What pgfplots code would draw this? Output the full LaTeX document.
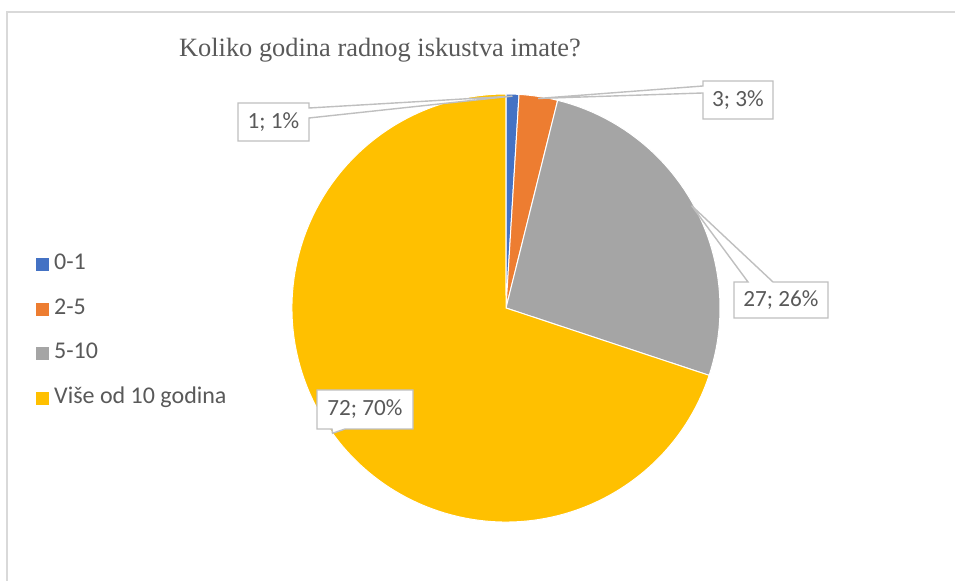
\documentclass[border=0pt]{standalone}
\usepackage{pgfplots}
\pgfplotsset{compat=1.18}
\usepackage{pgfplotstable}
\usepackage{fontspec}
\setmainfont{Carlito}
\newfontfamily\titlefont{Liberation Serif}

\definecolor{c0}{HTML}{4472C4}
\definecolor{c1}{HTML}{ED7D31}
\definecolor{c2}{HTML}{A5A5A5}
\definecolor{c3}{HTML}{FFC000}
\definecolor{txt}{HTML}{595959}
\definecolor{frame}{HTML}{D9D9D9}
\definecolor{callout}{HTML}{BFBFBF}

\pgfplotstableread[col sep=comma]{
label,value
0-1,1
2-5,3
5-10,27
Više od 10 godina,72
}\piedata

% slice angles, starting at 12 o'clock and going clockwise like Excel
\gdef\pietotal{0}
\foreach \i in {0,...,3}{%
  \pgfplotstablegetelem{\i}{value}\of\piedata
  \pgfmathparse{\pietotal+\pgfplotsretval}\xdef\pietotal{\pgfmathresult}}
\gdef\piecur{90}
\foreach \i in {0,...,3}{%
  \pgfplotstablegetelem{\i}{value}\of\piedata
  \let\pv\pgfplotsretval
  \pgfmathparse{\piecur-(\pv/\pietotal)*360}\xdef\pienxt{\pgfmathresult}%
  \expandafter\xdef\csname pieS\i\endcsname{\piecur}%
  \expandafter\xdef\csname pieE\i\endcsname{\pienxt}%
  \pgfmathparse{(\piecur+\pienxt)/2}%
  \expandafter\xdef\csname pieM\i\endcsname{\pgfmathresult}%
  \pgfmathtruncatemacro\pc{round((\pv/\pietotal)*100)}%
  \pgfmathtruncatemacro\vv{\pv}%
  \expandafter\xdef\csname pieL\i\endcsname{\vv; \pc\noexpand\%}%
  \xdef\piecur{\pienxt}}
\def\R{107pt}

\begin{document}
\begin{tikzpicture}[lbl/.style={text=txt, font=\fontsize{11.6}{13}\selectfont},
  co/.style={fill=white, draw=callout, line width=0.7pt, line join=miter}]
\begin{axis}[
    name=ax,
    scale only axis, width=477.5pt, height=290.5pt,
    xmin=0, xmax=955, ymin=0, ymax=581, y dir=reverse,
    hide axis, clip=false,
    legend style={at={(axis cs:36,253)}, anchor=north west, draw=none,
        inner sep=0pt, row sep=11.35pt, column sep=2.5pt,
        font=\fontsize{12}{14}\selectfont, text=txt,
        nodes={inner sep=0pt, text height=8pt, text depth=3pt}},
    legend cell align=left,
    legend image code/.code={\fill[#1] (0pt,-3pt) rectangle (6pt,3pt);},
]
\pgfplotsinvokeforeach{0,...,3}{
  \fill[c#1, draw=white, line width=0.5pt, line join=round]
    (axis cs:506,308) -- ([shift={(\csname pieS#1\endcsname:\R)}]axis cs:506,308)
    arc[start angle=\csname pieS#1\endcsname, end angle=\csname pieE#1\endcsname, radius=\R]
    -- cycle;
}
\addlegendimage{c0}\addlegendentry{0-1}
\addlegendimage{c1}\addlegendentry{2-5}
\addlegendimage{c2}\addlegendentry{5-10}
\addlegendimage{c3}\addlegendentry{Više od 10 godina}

% data label callouts
\filldraw[co] (axis cs:238,103) -- (axis cs:309,103) -- (axis cs:309,108)
  -- ([shift={(\csname pieM0\endcsname:106pt)}]axis cs:506,308)
  -- (axis cs:309,118) -- (axis cs:309,141) -- (axis cs:238,141) -- cycle;
\node[lbl] at (axis cs:273.5,122) {\csname pieL0\endcsname};

\filldraw[co] (axis cs:703,81) -- (axis cs:773,81) -- (axis cs:773,119)
  -- (axis cs:703,119) -- (axis cs:703,93)
  -- ([shift={(\csname pieM1\endcsname:106pt)}]axis cs:506,308)
  -- (axis cs:703,86) -- cycle;
\node[lbl] at (axis cs:738,100) {\csname pieL1\endcsname};

\filldraw[co] (axis cs:734,282) -- (axis cs:748,282)
  -- ([shift={(\csname pieM2\endcsname:106pt)}]axis cs:506,308)
  -- (axis cs:773,282) -- (axis cs:828,282) -- (axis cs:828,318)
  -- (axis cs:734,318) -- cycle;
\node[lbl] at (axis cs:781,300) {\csname pieL2\endcsname};

\filldraw[co] (axis cs:317,390) -- (axis cs:413,390) -- (axis cs:413,429)
  -- (axis cs:345,429)
  -- ([shift={(\csname pieM3\endcsname:107pt)}]axis cs:506,308)
  -- (axis cs:332,429) -- (axis cs:317,429) -- cycle;
\node[lbl] at (axis cs:365,409.5) {\csname pieL3\endcsname};

% title and chart frame
\node[text=txt, font=\titlefont\fontsize{13.2}{15}\selectfont, anchor=base]
  at (axis cs:380,57) {Koliko godina radnog iskustva imate?};
\draw[frame, line width=0.9pt] (axis cs:7,581) -- (axis cs:7,12) -- (axis cs:955,12);
\end{axis}
\pgfresetboundingbox
\path (ax.south west) rectangle (ax.north east);
\end{tikzpicture}
\end{document}
